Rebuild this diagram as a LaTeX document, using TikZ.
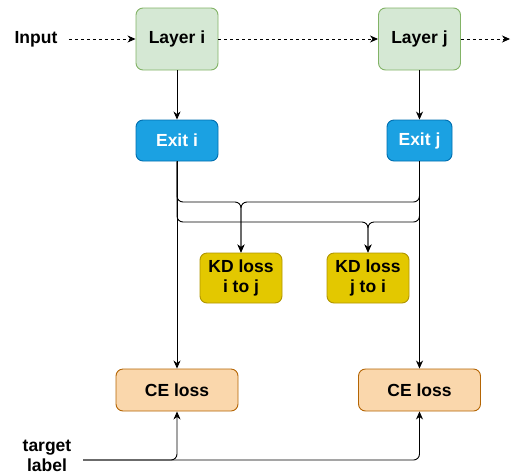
\documentclass[tikz,border=0pt]{standalone}
\usepackage{fontspec}
\setmainfont{Liberation Sans}
\usetikzlibrary{arrows.meta}
\definecolor{layerfill}{HTML}{D5E8D4}
\definecolor{layerline}{HTML}{82B366}
\definecolor{exitfill}{HTML}{1BA1E2}
\definecolor{exitline}{HTML}{006EAF}
\definecolor{kdfill}{HTML}{E3C800}
\definecolor{kdline}{HTML}{B09500}
\definecolor{cefill}{HTML}{FAD7AC}
\definecolor{celine}{HTML}{B46504}

\begin{document}
\begin{tikzpicture}[x=1pt,y=-1pt,
        font=\fontsize{17.5}{20}\selectfont\bfseries,
        box/.style={draw,line width=0.9pt,rounded corners=7pt,align=center,inner sep=0pt},
        layer/.style={box,fill=layerfill,draw=layerline,minimum width=82,minimum height=62},
        exit/.style={box,fill=exitfill,draw=exitline,text=white,minimum height=41},
        kd/.style={box,fill=kdfill,draw=kdline,minimum width=82,minimum height=50},
        ce/.style={box,fill=cefill,draw=celine,minimum width=122,minimum height=42},
        edge/.style={line width=0.9pt,-{Stealth[length=8pt,width=7pt,inset=2.5pt]},rounded corners=6pt},
        flow/.style={edge,dash pattern=on 3pt off 3pt}]
    \useasboundingbox (0,0) rectangle (511,472);
    % Layers
        \node[layer] (layeri) at (177,39) {Layer i};
        \node[layer] (layerj) at (419.5,39) {Layer j};
        \node (input) at (36,39) {Input};
        \coordinate (next) at (510,39);
    % Exits
        \node[exit,minimum width=82] (exiti) at (177,140.5) {Exit i};
        \node[exit,minimum width=65] (exitj) at (419.5,140.5) {Exit j};
    % Losses
        \node[kd] (kdij) at (241,278) {KD loss\\i to j};
        \node[kd] (kdji) at (368,278) {KD loss\\j to i};
        \node[ce] (cei) at (177,390) {CE loss};
        \node[ce] (cej) at (419.5,390) {CE loss};
        \node[align=center] (target) at (47,456) {target\\label};
        \coordinate (tl) at (83,460);
        \coordinate (upper) at (0,202);
        \coordinate (lower) at (0,222);
    % Forward pass
        \draw[flow] (input.east) ++(8,0) -- (layeri.west);
        \draw[flow] (layeri) -- (layerj);
        \draw[flow] (layerj.east) -- (next);
        \draw[edge] (layeri) -- (exiti);
        \draw[edge] (layerj) -- (exitj);
    % Exit outputs
        \draw[edge] (exiti.south) |- (kdij.north |- upper) -- (kdij.north);
        \draw[edge] (exitj.south) |- (kdij.north |- upper) -- (kdij.north);
        \draw[edge] (exiti.south) |- (kdji.north |- lower) -- (kdji.north);
        \draw[edge] (exitj.south) |- (kdji.north |- lower) -- (kdji.north);
        \draw[edge] (exiti) -- (cei);
        \draw[edge] (exitj) -- (cej);
    % Labels
        \draw[edge] (tl) -| (cei.south);
        \draw[edge] (tl) -| (cej.south);
\end{tikzpicture}
\end{document}
